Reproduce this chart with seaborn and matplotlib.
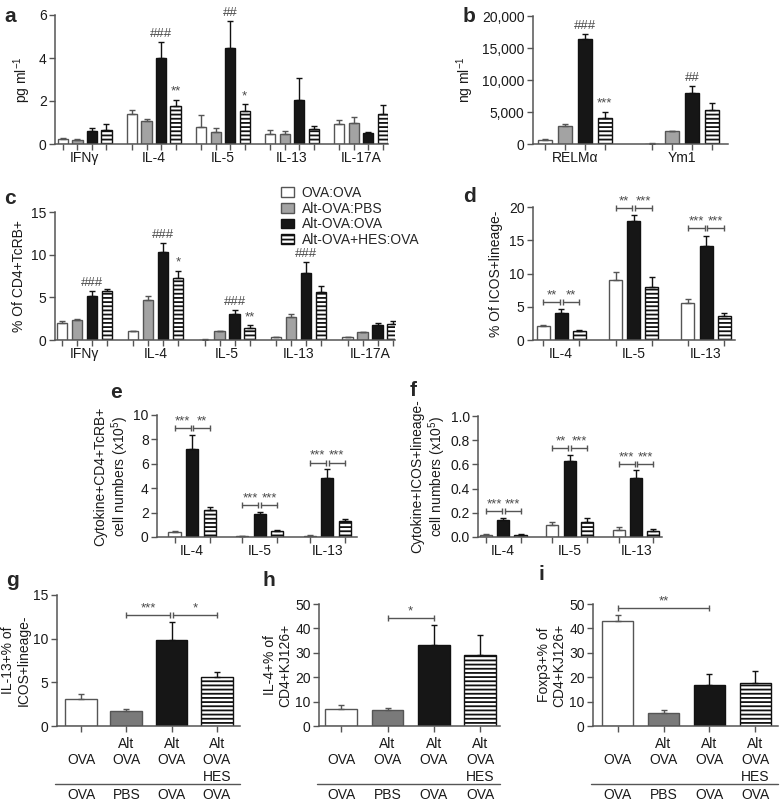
import matplotlib
matplotlib.use("agg")
import matplotlib.pyplot as plt
import matplotlib.transforms as mtransforms
from matplotlib.patches import Patch
from matplotlib.ticker import FuncFormatter, FormatStrFormatter
import pandas as pd
import seaborn as sns

sns.set_style("ticks")
plt.rcParams['font.family'] = ['Liberation Sans', 'DejaVu Sans']
plt.rcParams['mathtext.default'] = 'regular'
plt.rcParams['font.size'] = 10
plt.rcParams['hatch.linewidth'] = 1.3
plt.rcParams['hatch.color'] = '#111111'
plt.rcParams['axes.edgecolor'] = '#555555'
plt.rcParams['axes.linewidth'] = 1.1
plt.rcParams['xtick.color'] = '#555555'
plt.rcParams['ytick.color'] = '#555555'
plt.rcParams['xtick.labelcolor'] = '#1a1a1a'
plt.rcParams['ytick.labelcolor'] = '#1a1a1a'
plt.rcParams['axes.labelcolor'] = '#1a1a1a'

GROUPS = ["OVA:OVA", "Alt-OVA:PBS", "Alt-OVA:OVA", "Alt-OVA+HES:OVA"]
FACE = {"OVA:OVA": "#ffffff", "Alt-OVA:PBS": "#a3a3a3", "Alt-OVA:OVA": "#161616", "Alt-OVA+HES:OVA": "#ffffff"}
FACE_DARK = {"OVA:OVA": "#ffffff", "Alt-OVA:PBS": "#7a7a7a", "Alt-OVA:OVA": "#161616", "Alt-OVA+HES:OVA": "#ffffff"}
EDGE = {"OVA:OVA": "#555555", "Alt-OVA:PBS": "#555555", "Alt-OVA:OVA": "#111111", "Alt-OVA+HES:OVA": "#111111"}
HATCH = {"Alt-OVA+HES:OVA": "----"}
MARK_COLOR = "#4a4a4a"

# a: BAL cytokines, pg/ml (rows = groups)
A_CATS = ["IFNγ", "IL-4", "IL-5", "IL-13", "IL-17A"]
A_MEAN = [[0.25, 1.4, 0.8, 0.45, 0.95],
          [0.2, 1.05, 0.55, 0.45, 1.0],
          [0.6, 4.0, 4.45, 2.05, 0.5],
          [0.65, 1.75, 1.55, 0.7, 1.4]]
A_ERR = [[0.05, 0.2, 0.55, 0.2, 0.17],
         [0.03, 0.1, 0.2, 0.15, 0.25],
         [0.15, 0.75, 1.25, 1.0, 0.07],
         [0.3, 0.3, 0.3, 0.12, 0.4]]
A_MARKS = [(2, "IL-4", "###"), (3, "IL-4", "**"), (2, "IL-5", "##"), (3, "IL-5", "*")]

# b: RELMa / Ym1, ng/ml
B_CATS = ["RELMα", "Ym1"]
B_MEAN = [[700, 60], [2800, 2000], [16400, 7900], [4100, 5300]]
B_ERR = [[100, 30], [400, 60], [800, 1100], [900, 1100]]
B_MARKS = [(2, "RELMα", "###"), (3, "RELMα", "***"), (2, "Ym1", "##")]

# c: % of CD4+TcRB+
C_CATS = ["IFNγ", "IL-4", "IL-5", "IL-13", "IL-17A"]
C_MEAN = [[2.0, 1.0, 0.05, 0.35, 0.35],
          [2.4, 4.7, 1.0, 2.7, 0.9],
          [5.1, 10.3, 3.1, 7.9, 1.7],
          [5.8, 7.3, 1.4, 5.6, 1.9]]
C_ERR = [[0.2, 0.05, 0.02, 0.05, 0.05],
         [0.1, 0.5, 0.1, 0.3, 0.05],
         [0.6, 1.1, 0.4, 1.2, 0.35],
         [0.2, 0.8, 0.35, 0.7, 0.35]]
C_MARKS = [(2, "IFNγ", "###"), (2, "IL-4", "###"), (3, "IL-4", "*"),
           (2, "IL-5", "###"), (3, "IL-5", "**"), (2, "IL-13", "###")]

# d, e, f: three groups only
DEF_GROUPS = ["OVA:OVA", "Alt-OVA:OVA", "Alt-OVA+HES:OVA"]
DEF_CATS = ["IL-4", "IL-5", "IL-13"]
D_MEAN = [[2.1, 9.0, 5.5], [4.0, 17.9, 14.1], [1.3, 7.9, 3.6]]
D_ERR = [[0.1, 1.2, 0.7], [0.6, 0.9, 1.6], [0.25, 1.6, 0.5]]
D_STARS = [("IL-4", "**", "**"), ("IL-5", "**", "***"), ("IL-13", "***", "***")]

E_MEAN = [[0.45, 0.05, 0.1], [7.2, 1.85, 4.85], [2.2, 0.5, 1.3]]
E_ERR = [[0.05, 0.03, 0.03], [1.2, 0.2, 0.7], [0.25, 0.07, 0.2]]
E_STARS = [("IL-4", "***", "**"), ("IL-5", "***", "***"), ("IL-13", "***", "***")]

F_MEAN = [[0.02, 0.1, 0.06], [0.14, 0.63, 0.49], [0.02, 0.12, 0.05]]
F_ERR = [[0.005, 0.02, 0.02], [0.02, 0.05, 0.06], [0.005, 0.04, 0.015]]
F_STARS = [("IL-4", "***", "***"), ("IL-5", "**", "***"), ("IL-13", "***", "***")]

# g, h, i: single series with treatment table underneath
GHI_TOP = ["\nOVA", "Alt\nOVA", "Alt\nOVA", "Alt\nOVA\nHES"]
GHI_BOTTOM = ["OVA", "PBS", "OVA", "OVA"]
G_MEAN = [3.1, 1.7, 9.9, 5.6]
G_ERR = [0.6, 0.2, 2.0, 0.6]
G_BRACKETS = [(1, 2, "***"), (2, 3, "*")]
H_MEAN = [6.8, 6.5, 33.0, 29.2]
H_ERR = [2.0, 0.9, 8.5, 8.3]
H_BRACKETS = [(1, 2, "*")]
I_MEAN = [43.0, 5.5, 17.0, 17.8]
I_ERR = [2.5, 1.2, 4.2, 4.8]
I_BRACKETS = [(0, 2, "**")]

W, H = 780, 802
fig = plt.figure(figsize=(W / 100, H / 100), dpi=100)


def axes_px(l, t, r, b):
    return fig.add_axes([l / W, 1 - b / H, (r - l) / W, (b - t) / H])


def letter(x, y, s):
    fig.text(x / W, 1 - y / H, s, fontsize=15, fontweight='bold', ha='left', va='center')


def style(ax, ylim, yticks, ylabel, xlim, labelpad=4):
    sns.despine(ax=ax)
    ax.set_ylim(*ylim)
    ax.set_yticks(yticks)
    ax.set_xlim(*xlim)
    ax.set_xlabel("")
    ax.set_ylabel(ylabel, fontsize=10, labelpad=labelpad, linespacing=1.1)
    ax.tick_params(axis='y', length=4, width=1, labelsize=10, pad=2)


def draw_bars(ax, cont, g, err):
    xs, tops = [], []
    for p in cont:
        p.set_edgecolor(EDGE[g])
        p.set_linewidth(1)
        if g in HATCH:
            p.set_hatch(HATCH[g])
        xs.append(p.get_x() + p.get_width() / 2)
        tops.append(p.get_height())
    ax.errorbar(xs, tops, yerr=[[0] * len(err), err], fmt='none', ecolor=EDGE[g],
                elinewidth=1, capsize=2.5, capthick=1, zorder=3)
    return xs, [t + e for t, e in zip(tops, err)]


def grouped_panel(ax, cats, groups, means, errs, width, gap):
    df = pd.DataFrame({
        "cat": [c for g in groups for c in cats],
        "grp": [g for g in groups for c in cats],
        "val": [v for row in means for v in row],
    })
    sns.barplot(data=df, x="cat", y="val", hue="grp", order=cats, hue_order=groups,
                palette={g: FACE[g] for g in groups}, width=width, gap=gap, saturation=1,
                errorbar=None, legend=False, ax=ax)
    bars = {}
    centers = []
    for cont, g, err in zip(list(ax.containers), groups, errs):
        xs, ends = draw_bars(ax, cont, g, err)
        bars[g] = (xs, ends)
        centers += xs
    ax.set_xticks(centers, minor=True)
    ax.tick_params(axis='x', which='major', length=0, pad=5, labelsize=10)
    ax.tick_params(axis='x', which='minor', length=4, width=1)
    return bars


def marks(ax, bars, groups, cats, items):
    for gi, cat, txt in items:
        xs, ends = bars[groups[gi]]
        k = cats.index(cat)
        ax.annotate(txt, (xs[k], ends[k]), xytext=(0, 1.5), textcoords='offset points',
                    ha='center', va='bottom', fontsize=9.5, color=MARK_COLOR)


def bracket(ax, x0, x1, y, label):
    ax.plot([x0, x1], [y, y], color='#555555', lw=1, marker='|', markersize=5,
            mew=1, clip_on=False, zorder=4)
    ax.annotate(label, ((x0 + x1) / 2, y), xytext=(0, 0.5), textcoords='offset points',
                ha='center', va='bottom', fontsize=9.5, color=MARK_COLOR)


def pair_brackets(ax, bars, cats, stars, ymax, shrink=0.02):
    for cat, s1, s2 in stars:
        k = cats.index(cat)
        xs = [bars[g][0][k] for g in DEF_GROUPS]
        y = max(bars[g][1][k] for g in DEF_GROUPS) + 0.055 * ymax
        bracket(ax, xs[0], xs[1] - shrink, y, s1)
        bracket(ax, xs[1] + shrink, xs[2], y, s2)


def single_panel(ax, means, errs, brackets, ylim, yticks, ylabel, xlim, width):
    df = pd.DataFrame({"grp": GROUPS, "val": means})
    sns.barplot(data=df, x="grp", y="val", hue="grp", order=GROUPS, hue_order=GROUPS,
                palette=FACE_DARK, width=width, saturation=1, errorbar=None,
                legend=False, ax=ax)
    xs, ends = [], []
    for cont, g, err in zip(list(ax.containers), GROUPS, errs):
        x, e = draw_bars(ax, cont, g, [err])
        xs += x
        ends += e
    style(ax, ylim, yticks, ylabel, xlim, labelpad=2)
    ax.set_xticks(xs, GHI_TOP)
    ax.tick_params(axis='x', length=4, width=1, pad=4, labelsize=10)
    shared = [b[0] for b in brackets] + [b[1] for b in brackets]
    for i, j, lab in brackets:
        y = max(ends[i:j + 1]) + 0.055 * ylim[1]
        x0 = xs[i] + (0.04 if shared.count(i) > 1 else 0)
        x1 = xs[j] - (0.04 if shared.count(j) > 1 else 0)
        bracket(ax, x0, x1, y, lab)
    # treatment table under the axis
    off_line = mtransforms.ScaledTranslation(0, -0.58, fig.dpi_scale_trans)
    off_text = mtransforms.ScaledTranslation(0, -0.62, fig.dpi_scale_trans)
    lo, hi = ax.get_xlim()
    ax.plot([lo - 0.05, hi], [0, 0], color='#555555', lw=1, clip_on=False,
            transform=ax.get_xaxis_transform() + off_line)
    for x, lab in zip(xs, GHI_BOTTOM):
        ax.text(x, 0, lab, ha='center', va='top', fontsize=10, color='#1a1a1a',
                transform=ax.get_xaxis_transform() + off_text)


# ---- a
ax = axes_px(55, 15, 388, 144)
bars = grouped_panel(ax, A_CATS, GROUPS, A_MEAN, A_ERR, 0.84, 0.3)
style(ax, (0, 6), [0, 2, 4, 6], "pg ml$^{-1}$", (-0.43, 4.39))
marks(ax, bars, GROUPS, A_CATS, A_MARKS)
letter(4, 17, "a")

# ---- b
ax = axes_px(533, 16, 728, 144)
bars = grouped_panel(ax, B_CATS, GROUPS, B_MEAN, B_ERR, 0.75, 0.3)
style(ax, (0, 20000), [0, 5000, 10000, 15000, 20000], "ng ml$^{-1}$", (-0.39, 1.43))
ax.yaxis.set_major_formatter(FuncFormatter(lambda v, p: f"{v:,.0f}"))
marks(ax, bars, GROUPS, B_CATS, B_MARKS)
letter(463, 17, "b")

# ---- c
ax = axes_px(55, 212, 395, 340)
bars = grouped_panel(ax, C_CATS, GROUPS, C_MEAN, C_ERR, 0.84, 0.3)
style(ax, (0, 15), [0, 5, 10, 15], "% Of CD4+TcRB+", (-0.41, 4.35))
marks(ax, bars, GROUPS, C_CATS, C_MARKS)
letter(4, 198, "c")

handles = [Patch(facecolor=FACE[g], edgecolor=EDGE[g], hatch=HATCH.get(g), linewidth=1, label=g)
           for g in GROUPS]
fig.legend(handles=handles, loc='upper left', bbox_to_anchor=(281 / W, 1 - 186 / H),
           frameon=False, fontsize=10, handlelength=0.9, handleheight=0.7,
           labelspacing=0.12, handletextpad=0.6, borderpad=0, borderaxespad=0)

# ---- d
ax = axes_px(533, 207, 735, 340)
bars = grouped_panel(ax, DEF_CATS, DEF_GROUPS, D_MEAN, D_ERR, 0.75, 0.28)
style(ax, (0, 20), [0, 5, 10, 15, 20], "% Of ICOS+lineage-", (-0.39, 2.4))
pair_brackets(ax, bars, DEF_CATS, D_STARS, 20)
letter(463, 197, "d")

# ---- e
ax = axes_px(157, 415, 357, 537)
bars = grouped_panel(ax, DEF_CATS, DEF_GROUPS, E_MEAN, E_ERR, 0.78, 0.3)
style(ax, (0, 10), [0, 2, 4, 6, 8, 10], "Cytokine+CD4+TcRB+\ncell numbers (x10$^5$)",
      (-0.52, 2.44), labelpad=2)
pair_brackets(ax, bars, DEF_CATS, E_STARS, 10)
letter(110, 393, "e")

# ---- f
ax = axes_px(478, 416, 662, 537)
bars = grouped_panel(ax, DEF_CATS, DEF_GROUPS, F_MEAN, F_ERR, 0.78, 0.3)
style(ax, (0, 1.0), [0, 0.2, 0.4, 0.6, 0.8, 1.0], "Cytokine+ICOS+lineage-\ncell numbers (x10$^5$)",
      (-0.38, 2.39), labelpad=2)
ax.yaxis.set_major_formatter(FormatStrFormatter('%.1f'))
pair_brackets(ax, bars, DEF_CATS, F_STARS, 1.0)
letter(410, 391, "f")

# ---- g, h, i
ax = axes_px(57, 595, 240, 726)
single_panel(ax, G_MEAN, G_ERR, G_BRACKETS, (0, 15), [0, 5, 10, 15],
             "IL-13+% of\nICOS+lineage-", (-0.53, 3.51), 0.7)
letter(6, 580, "g")

ax = axes_px(319, 604, 500, 726)
single_panel(ax, H_MEAN, H_ERR, H_BRACKETS, (0, 50), [0, 10, 20, 30, 40, 50],
             "IL-4+% of\nCD4+KJ126+", (-0.48, 3.43), 0.68)
letter(262, 580, "h")

ax = axes_px(593, 604, 778, 726)
single_panel(ax, I_MEAN, I_ERR, I_BRACKETS, (0, 50), [0, 10, 20, 30, 40, 50],
             "Foxp3+% of\nCD4+KJ126+", (-0.54, 3.5), 0.68)
letter(538, 574, "i")

fig.savefig("out.png", dpi=100)
